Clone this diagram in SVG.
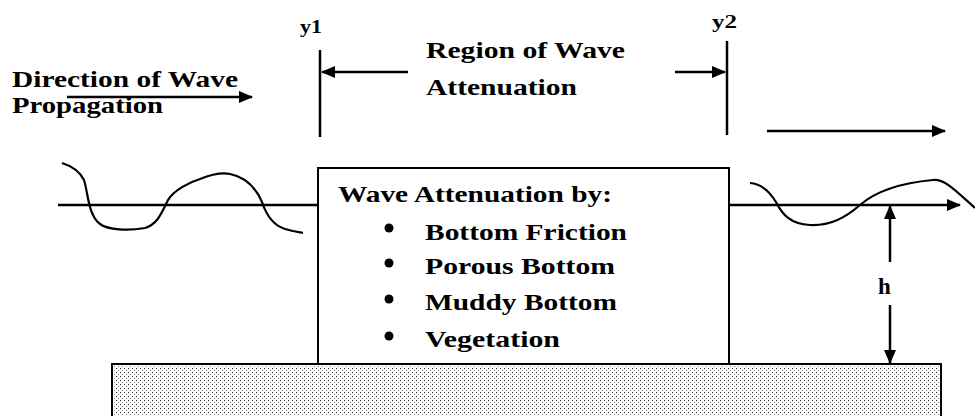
<svg xmlns="http://www.w3.org/2000/svg" width="975" height="416" viewBox="0 0 975 416">
<style>
  text { font-family: "Liberation Serif", "DejaVu Serif", "Times New Roman", serif; font-weight: bold; fill: #000; }
  .t { font-size: 23px; }
  .s { font-size: 18px; }
  .ln { stroke: #000; stroke-width: 2.5; fill: none; }
  .wave { stroke: #000; stroke-width: 2.2; fill: none; }
</style>
<defs>
  <pattern id="dots" width="4" height="4" patternUnits="userSpaceOnUse">
    <rect width="4" height="4" fill="#fff"/>
    <rect x="0" y="0" width="1" height="1" fill="#222"/>
    <rect x="2" y="2" width="1" height="1" fill="#888"/>
  </pattern>
  <marker id="ah" viewBox="0 0 14 12" refX="13" refY="6" markerWidth="14" markerHeight="12" markerUnits="userSpaceOnUse" orient="auto">
    <path d="M0,0 L14,6 L0,12 Z" fill="#000"/>
  </marker>
</defs>
<rect width="975" height="416" fill="#fff"/>

<g id="ground">
  <rect x="112" y="364" width="829" height="70" fill="url(#dots)" stroke="#000" stroke-width="2"/>
</g>

<g id="connectors">
  <path class="ln" d="M67,97 H252" marker-end="url(#ah)"/>
  <path class="ln" d="M320,50 V137"/>
  <path class="ln" d="M727,41 V135"/>
  <path class="ln" d="M408,72 H322" marker-end="url(#ah)"/>
  <path class="ln" d="M675,72 H725" marker-end="url(#ah)"/>
  <path class="ln" d="M767,131 H945" marker-end="url(#ah)"/>
  <path class="ln" stroke-width="3" d="M58,205 H318"/>
  <path class="ln" stroke-width="3" d="M729,205 H960" marker-end="url(#ah)"/>
  <path class="ln" d="M890,262 V206" marker-end="url(#ah)"/>
  <path class="ln" d="M890,305 V363" marker-end="url(#ah)"/>
  <path class="wave" d="M62,163 Q78,168 84,180 C88,192 88,215 100,224 C108,230 128,231 145,228 C158,224 162,212 168,200 C174,190 190,182 200,179 C210,175 220,172 230,174 C245,177 256,188 262,202 C266,214 272,225 285,229 C292,231 298,232 303,233"/>
  <path class="wave" d="M750,183 C762,184 770,192 776,202 C782,214 790,224 810,225 C830,226 845,218 860,205 C875,192 900,183 933,180 C945,179 955,190 975,208"/>
</g>

<g id="direction-label">
  <text class="t" x="12" y="87" textLength="226" lengthAdjust="spacingAndGlyphs">Direction of Wave</text>
  <text class="t" x="12" y="113" textLength="151" lengthAdjust="spacingAndGlyphs">Propagation</text>
</g>

<g id="y1-label"><text class="s" x="300" y="33" textLength="22" lengthAdjust="spacingAndGlyphs">y1</text></g>
<g id="y2-label"><text class="s" x="712" y="28" textLength="25" lengthAdjust="spacingAndGlyphs">y2</text></g>

<g id="region-label">
  <text class="t" x="426" y="58" textLength="199" lengthAdjust="spacingAndGlyphs">Region of Wave</text>
  <text class="t" x="426" y="95" textLength="151" lengthAdjust="spacingAndGlyphs">Attenuation</text>
</g>

<g id="attenuation-box">
  <rect x="318" y="168" width="411" height="196" fill="#fff" stroke="#000" stroke-width="2"/>
  <text class="t" x="338" y="202" textLength="274" lengthAdjust="spacingAndGlyphs">Wave Attenuation by:</text>
  <circle cx="389" cy="228" r="4.5" fill="#000"/>
  <circle cx="389" cy="263" r="4.5" fill="#000"/>
  <circle cx="389" cy="299" r="4.5" fill="#000"/>
  <circle cx="389" cy="336" r="4.5" fill="#000"/>
  <text class="t" x="425" y="240" textLength="202" lengthAdjust="spacingAndGlyphs">Bottom Friction</text>
  <text class="t" x="425" y="274" textLength="190" lengthAdjust="spacingAndGlyphs">Porous Bottom</text>
  <text class="t" x="425" y="310" textLength="192" lengthAdjust="spacingAndGlyphs">Muddy Bottom</text>
  <text class="t" x="425" y="347" textLength="135" lengthAdjust="spacingAndGlyphs">Vegetation</text>
</g>

<g id="h-label"><text class="t" x="878" y="294">h</text></g>
</svg>
